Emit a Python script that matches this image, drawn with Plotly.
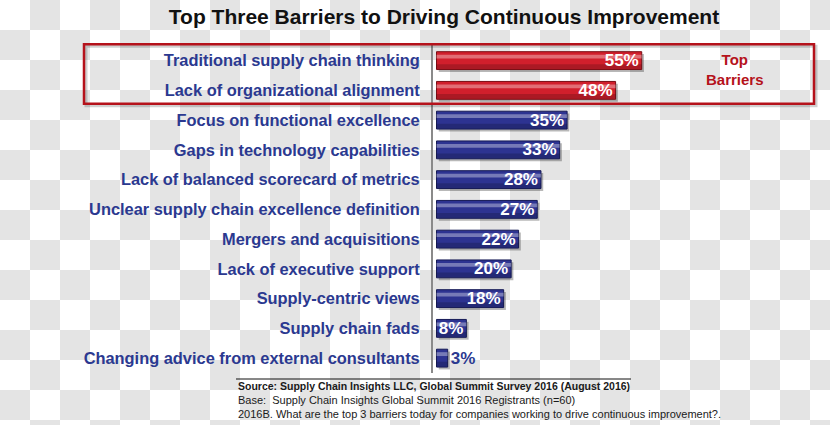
import plotly.graph_objects as go

# ---------------- data ----------------
categories = [
    "Traditional supply chain thinking",
    "Lack of organizational alignment",
    "Focus on functional excellence",
    "Gaps in technology capabilities",
    "Lack of balanced scorecard of metrics",
    "Unclear supply chain excellence definition",
    "Mergers and acquisitions",
    "Lack of executive support",
    "Supply-centric views",
    "Supply chain fads",
    "Changing advice from external consultants",
]
values = [55, 48, 35, 33, 28, 27, 22, 20, 18, 8, 3]
value_labels = [f"{v}%" for v in values]
n_top = 2

title_text = "Top Three Barriers to Driving Continuous Improvement"
top_label = "Top<br>Barriers"
footer_lines = [
    "<b>Source: Supply Chain Insights LLC, Global Summit Survey 2016 (August 2016)</b>",
    "Base:  Supply Chain Insights Global Summit 2016 Registrants (n=60)",
    "2016B. What are the top 3 barriers today for companies working to drive continuous improvement?.",
]

# ---------------- style ----------------
W, H = 830, 425
ML, MR, MT, MB = 433, 20, 43, 52
PW, PH = W - ML - MR, H - MT - MB

RED, RED_EDGE = "#d11f2c", "#7a0d14"
BLUE, BLUE_EDGE = "#2d3391", "#161a55"
LABEL_BLUE = "#2b3990"
BOX_RED = "#b5121b"


def px2x(px):
    return (px - ML) / PW


def py2y(py):
    return (H - MB - py) / PH


bar_colors = [RED if i < n_top else BLUE for i in range(len(values))]
edge_colors = [RED_EDGE if i < n_top else BLUE_EDGE for i in range(len(values))]
text_pos = ["inside" if v >= 5 else "outside" for v in values]
text_cols = ["white" if v >= 5 else LABEL_BLUE for v in values]

fig = go.Figure()

# shadow
fig.add_trace(go.Bar(
    y=categories, x=values, base=0.6, orientation="h",
    width=0.6, offset=-0.22,
    marker=dict(color="rgba(0,0,0,0.28)", line=dict(width=0)),
    hoverinfo="skip", showlegend=False,
))
# main bars
fig.add_trace(go.Bar(
    y=categories, x=values, orientation="h",
    width=0.6, offset=-0.3,
    marker=dict(color=bar_colors, line=dict(color=edge_colors, width=1)),
    showlegend=False,
))
# highlight stripe
fig.add_trace(go.Bar(
    y=categories, x=values, orientation="h",
    width=0.13, offset=-0.2,
    marker=dict(color="rgba(255,255,255,0.35)", line=dict(width=0)),
    hoverinfo="skip", showlegend=False,
))
# lower darkening
fig.add_trace(go.Bar(
    y=categories, x=values, orientation="h",
    width=0.16, offset=0.12,
    marker=dict(color="rgba(0,0,0,0.18)", line=dict(width=0)),
    hoverinfo="skip", showlegend=False,
))
# value labels
fig.add_trace(go.Bar(
    y=categories, x=values, orientation="h",
    width=0.6, offset=-0.3,
    marker=dict(color="rgba(0,0,0,0)", line=dict(width=0)),
    text=value_labels, textposition=text_pos,
    insidetextanchor="end", constraintext="none", cliponaxis=False,
    textfont=dict(family="Liberation Sans, Arial, sans-serif", size=17,
                  color=text_cols, weight="bold"),
    hoverinfo="skip", showlegend=False,
))

# ---------------- checkerboard background ----------------
shapes = []
SQ = 30
for r in range(0, H // SQ + 1):
    for c in range(0, W // SQ + 1):
        if (r + c) % 2 == 1:
            x0, x1 = c * SQ, min((c + 1) * SQ, W)
            y0, y1 = r * SQ, min((r + 1) * SQ, H)
            shapes.append(dict(
                type="rect", xref="paper", yref="paper", layer="below",
                x0=px2x(x0), x1=px2x(x1), y0=py2y(y1), y1=py2y(y0),
                fillcolor="#e4e4e4", line=dict(width=0),
            ))

# red box around top barriers (shadow + box)
shapes.append(dict(
    type="rect", xref="paper", yref="y", layer="above",
    x0=px2x(86), x1=px2x(816), y0=-0.5 + 0.02, y1=n_top - 0.5 + 0.02,
    line=dict(color="rgba(0,0,0,0.18)", width=3),
))
shapes.append(dict(
    type="rect", xref="paper", yref="y", layer="above",
    x0=px2x(84), x1=px2x(814), y0=-0.5 - 0.05, y1=n_top - 0.5 - 0.05,
    line=dict(color=BOX_RED, width=2.5),
))
# footer rule
shapes.append(dict(
    type="line", xref="paper", yref="paper",
    x0=px2x(236), x1=px2x(631), y0=py2y(379), y1=py2y(379),
    line=dict(color="#111111", width=1),
))

annotations = [
    dict(text=top_label, xref="paper", yref="y", x=px2x(735), y=(n_top - 1) / 2,
         yshift=6, showarrow=False, xanchor="center", yanchor="middle",
         font=dict(family="Liberation Sans, Arial, sans-serif", size=15,
                   color=BOX_RED, weight="bold"), align="center"),
]
footer_sizes = [10.5, 11, 11]
for i, line in enumerate(footer_lines):
    annotations.append(dict(
        text=line, xref="paper", yref="paper",
        x=px2x(236), y=py2y(385.5 + i * 14),
        xanchor="left", yanchor="middle", showarrow=False,
        font=dict(family="Liberation Sans, Arial, sans-serif", size=footer_sizes[i],
                  color="#1a1a1a"),
    ))

fig.update_layout(
    width=W, height=H,
    margin=dict(l=ML, r=MR, t=MT, b=MB),
    paper_bgcolor="white", plot_bgcolor="rgba(0,0,0,0)",
    barmode="overlay",
    title=dict(text=f"<b>{title_text}</b>", x=px2x(444), xref="paper", xanchor="center",
               y=1 - 17 / H, yanchor="middle",
               font=dict(family="Liberation Sans, Arial, sans-serif",
                         size=21, color="#111111")),
    xaxis=dict(range=[-0.94, 100.1], showgrid=False, zeroline=False,
               showticklabels=False, ticks="", fixedrange=True),
    yaxis=dict(autorange="reversed", showgrid=False, zeroline=False,
               showline=True, linecolor="#8a8a8a", linewidth=2,
               ticks="", ticklabelstandoff=8,
               tickfont=dict(family="Liberation Sans, Arial, sans-serif", size=16.4,
                             color=LABEL_BLUE, weight="bold")),
    shapes=shapes,
    annotations=annotations,
)

fig.write_html("out.html", config={"displayModeBar": False},
               post_script="document.body.style.margin='0';")
